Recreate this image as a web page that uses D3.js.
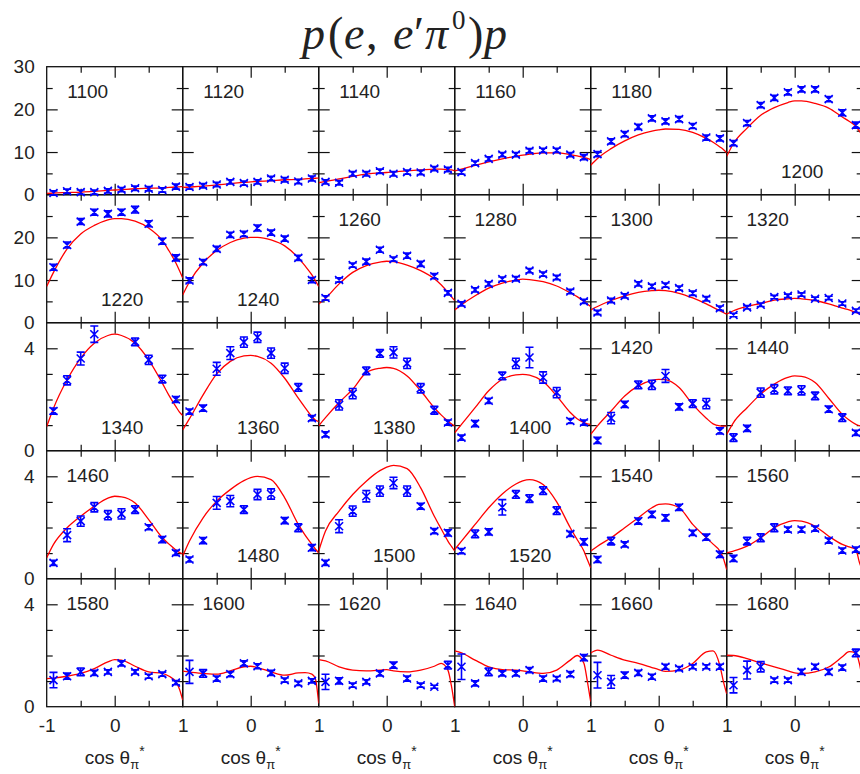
<!DOCTYPE html>
<html><head><meta charset="utf-8">
<script src="https://cdn.jsdelivr.net/npm/d3@7"></script>
<style>body{margin:0;background:#fff}svg{display:block}</style>
</head><body><svg id="chart" width="860" height="774"></svg>
<script>
// ---------------- data ----------------
const energies = [1100,1120,1140,1160,1180,1200,
                  1220,1240,1260,1280,1300,1320,
                  1340,1360,1380,1400,1420,1440,
                  1460,1480,1500,1520,1540,1560,
                  1580,1600,1620,1640,1660,1680];
const labelAtBottom = [1200,1220,1240,1340,1360,1380,1400,1480,1500,1520];
const binX = [-0.9,-0.7,-0.5,-0.3,-0.1,0.1,0.3,0.5,0.7,0.9];
const curveX = [-1,-0.9,-0.7,-0.5,-0.3,-0.1,0,0.1,0.3,0.5,0.7,0.8,0.9,0.95,1];
const rowMax = [30,30,5,5,5];
const rowMajorTicks = [[10,20],[10,20],[4],[4],[4]];
const rowMinorTicks = [[5,15,25],[5,15,25],[1,2,3],[1,2,3],[1,2,3]];
const rowTickLabels = [[0,10,20,30],[0,10,20],[0,4],[0,4],[0,4]];
const xMajorTicks = [0];
const xMinorTicks = [-0.5,0.5];
const xAxisTitle = "cos θ";

// measured cross sections (one array per energy, order as binX)
const dataValues = [
  [0.4,0.8,0.6,0.6,0.9,1.2,1.5,1.4,1.1,1.9],
  [1.8,2.1,2.4,3.0,2.7,3.0,3.8,3.5,3.1,3.8],
  [3.0,2.8,4.9,4.9,5.5,4.9,5.3,5.2,6.1,5.9],
  [5.3,7.4,8.4,9.4,9.4,10.3,10.4,10.4,9.4,8.8],
  [9.5,12.5,14.2,15.9,17.9,17.2,17.7,16.1,13.4,13.2],
  [12.1,16.8,21.0,22.7,24.0,24.7,24.7,22.4,19.2,16.3],
  [13.0,18.2,23.7,25.9,25.5,25.9,26.5,23.2,19.1,15.2],
  [9.9,14.2,17.3,20.6,20.8,22.2,21.1,19.7,15.2,10.0],
  [5.8,10.0,13.5,14.3,17.1,14.9,15.7,13.8,10.9,7.0],
  [4.4,7.7,9.1,10.2,10.3,12.2,11.4,10.6,7.3,5.0],
  [2.4,5.2,6.3,9.1,8.5,8.8,8.1,6.9,5.6,3.4],
  [1.8,3.6,4.2,6.0,6.3,6.6,5.6,5.8,4.5,2.8],
  [1.55,2.75,3.6,4.55,null,null,4.25,3.55,2.8,2.0],
  [1.53,1.66,3.2,3.81,4.24,4.43,3.81,3.22,2.47,1.27],
  [0.64,1.79,2.23,3.12,3.8,3.84,3.41,2.44,1.58,1.10],
  [0.51,1.06,1.95,2.92,3.41,3.64,2.86,2.27,1.16,1.10],
  [0.40,1.27,1.81,2.57,2.57,2.92,1.71,1.84,1.84,0.77],
  [0.51,0.87,2.27,2.40,2.34,2.36,2.14,1.62,1.29,0.70],
  [0.62,1.70,2.25,2.79,2.48,2.53,2.70,2.01,1.53,1.01],
  [0.75,1.49,2.96,3.03,2.70,3.29,3.31,2.27,1.99,1.21],
  [0.62,2.05,2.64,3.22,3.42,3.74,3.42,2.83,1.86,1.79],
  [1.08,1.75,1.83,2.79,3.29,3.13,3.44,2.66,1.75,1.44],
  [0.75,1.47,1.34,2.25,2.51,2.38,2.79,1.79,1.62,0.95],
  [0.79,1.47,1.60,1.99,1.92,1.92,1.96,1.49,1.10,1.14],
  [1.04,1.19,1.36,1.32,1.36,1.69,1.36,1.19,1.27,0.94],
  [1.36,1.30,1.10,1.27,1.69,1.58,1.32,1.04,0.91,1.01],
  [0.97,1.01,0.84,0.97,1.30,1.62,1.10,0.84,0.78,1.62],
  [1.56,0.91,1.36,1.30,1.30,1.43,1.10,1.10,1.27,1.92],
  [1.23,0.97,1.23,1.32,1.17,1.56,1.49,1.56,1.56,1.56],
  [0.84,1.43,1.56,1.04,1.04,1.36,1.56,1.36,1.53,2.10]
];
const dataErrors = [
  [0.5,0.5,0.5,0.5,0.5,0.5,0.5,0.5,0.5,0.6],
  [0.5,0.5,0.5,0.5,0.5,0.5,0.5,0.5,0.5,0.6],
  [0.5,0.5,0.5,0.5,0.5,0.5,0.5,0.5,0.5,0.5],
  [0.5,0.5,0.5,0.5,0.5,0.5,0.5,0.5,0.5,0.6],
  [0.6,0.6,0.6,0.6,0.6,0.6,0.6,0.6,0.6,0.6],
  [0.6,0.6,0.6,0.6,0.6,0.6,0.6,0.6,0.7,0.7],
  [0.7,0.7,0.7,0.7,0.7,0.7,0.8,0.7,0.7,0.7],
  [0.6,0.6,0.6,0.6,0.6,0.7,0.6,0.6,0.6,0.6],
  [0.5,0.5,0.5,0.6,0.6,0.5,0.6,0.6,0.6,0.5],
  [0.5,0.5,0.5,0.5,0.5,0.5,0.5,0.5,0.5,0.5],
  [0.5,0.5,0.5,0.5,0.5,0.5,0.5,0.5,0.5,0.5],
  [0.4,0.4,0.4,0.4,0.4,0.4,0.4,0.4,0.4,0.4],
  [0.12,0.18,0.25,0.32,0,0,0.15,0.18,0.15,0.12],
  [0.10,0.12,0.25,0.25,0.20,0.20,0.20,0.20,0.15,0.10],
  [0.10,0.20,0.20,0.15,0.15,0.22,0.20,0.18,0.15,0.10],
  [0.10,0.12,0.10,0.15,0.20,0.40,0.22,0.20,0.10,0.10],
  [0.12,0.22,0.12,0.15,0.18,0.25,0.12,0.15,0.20,0.12],
  [0.15,0.12,0.18,0.18,0.15,0.18,0.15,0.12,0.15,0.10],
  [0.10,0.25,0.20,0.18,0.18,0.20,0.15,0.10,0.12,0.10],
  [0.10,0.12,0.25,0.22,0.15,0.20,0.20,0.12,0.15,0.12],
  [0.10,0.25,0.20,0.22,0.20,0.22,0.20,0.12,0.10,0.12],
  [0.10,0.15,0.12,0.30,0.15,0.15,0.15,0.15,0.10,0.12],
  [0.12,0.15,0.10,0.12,0.12,0.12,0.12,0.10,0.12,0.12],
  [0.12,0.15,0.15,0.15,0.10,0.10,0.10,0.10,0.10,0.10],
  [0.30,0.12,0.15,0.10,0.08,0.10,0.08,0.08,0.08,0.08],
  [0.45,0.15,0.10,0.10,0.10,0.10,0.10,0.08,0.08,0.08],
  [0.30,0.12,0.08,0.08,0.10,0.12,0.10,0.08,0.06,0.15],
  [0.50,0.10,0.15,0.10,0.10,0.10,0.10,0.08,0.10,0.12],
  [0.50,0.25,0.12,0.10,0.10,0.10,0.08,0.08,0.08,0.10],
  [0.30,0.35,0.20,0.08,0.08,0.10,0.10,0.10,0.10,0.15]
];
// model curves sampled at curveX
const modelValues = [
  [0.3,0.4,0.5,0.6,0.8,1.0,1.1,1.2,1.4,1.5,1.6,1.7,1.8,1.85,1.9],
  [1.7,1.8,2.0,2.3,2.6,2.9,3.0,3.1,3.3,3.5,3.6,3.7,3.8,3.85,3.9],
  [2.8,3.1,3.7,4.3,4.8,5.1,5.2,5.35,5.6,5.8,6.0,6.0,5.9,5.8,5.6],
  [5.6,6.0,6.9,7.7,8.4,9.0,9.3,9.5,9.8,9.8,9.4,9.1,8.7,8.5,8.2],
  [6.9,8.5,10.8,12.6,14.0,14.9,15.2,15.4,15.3,14.6,13.2,12.3,11.2,10.6,9.8],
  [9.0,12.0,15.6,18.6,20.4,21.6,22.0,22.0,21.4,20.3,18.2,17.2,16.0,14.9,14.0],
  [8.5,11.8,17.3,20.8,22.8,24.1,24.4,24.4,23.8,22.2,19.3,16.8,14.0,12.3,10.5],
  [6.5,9.6,14.0,16.9,18.8,19.8,20.0,20.0,19.4,18.0,15.2,13.3,11.2,9.9,8.5],
  [4.4,5.7,9.1,11.8,13.4,14.2,14.4,14.3,13.5,12.2,10.3,8.9,7.1,6.1,5.2],
  [3.0,4.2,6.3,8.1,9.3,10.0,10.2,10.1,9.6,8.6,7.0,6.1,5.0,4.4,3.8],
  [3.0,3.8,5.2,6.3,7.1,7.5,7.6,7.5,6.9,5.8,4.4,3.6,2.8,2.4,2.0],
  [2.0,2.8,3.8,4.5,5.3,5.6,5.7,5.6,5.2,4.4,3.4,3.0,2.4,2.1,1.8],
  [0.94,1.66,2.77,3.62,4.2,4.5,4.55,4.5,4.2,3.55,2.64,2.15,1.72,1.52,1.37],
  [0.81,1.25,2.18,3.0,3.49,3.7,3.72,3.68,3.42,2.83,2.05,1.68,1.33,1.2,1.14],
  [0.97,1.29,1.88,2.4,3.05,3.22,3.25,3.22,2.92,2.34,1.68,1.4,1.16,1.05,0.97],
  [0.7,1.03,1.68,2.34,2.79,2.96,2.98,2.95,2.7,2.14,1.49,1.25,1.1,1.05,1.03],
  [0.64,0.97,1.55,2.14,2.53,2.75,2.79,2.78,2.47,1.81,1.27,1.05,0.97,0.96,0.97],
  [0.64,1.1,1.68,2.21,2.6,2.86,2.92,2.9,2.66,2.05,1.42,1.2,1.03,0.98,0.97],
  [0.82,1.34,1.99,2.44,2.83,3.15,3.22,3.2,2.96,2.31,1.6,1.35,1.12,1.03,0.97],
  [0.88,1.47,2.38,3.03,3.48,3.83,3.95,4.0,3.87,3.16,2.12,1.7,1.34,1.16,1.01],
  [1.08,1.86,2.64,3.29,3.81,4.22,4.36,4.43,4.3,3.55,2.44,1.95,1.47,1.27,1.08],
  [1.14,1.47,2.12,2.77,3.31,3.7,3.82,3.87,3.68,3.0,1.99,1.53,1.08,0.75,0.43],
  [1.08,1.27,1.6,1.99,2.38,2.77,2.9,2.92,2.77,2.12,1.6,1.35,1.08,0.8,0.36],
  [1.01,1.08,1.27,1.6,1.99,2.22,2.27,2.25,2.05,1.66,1.34,1.24,1.14,0.65,0.3],
  [1.1,1.12,1.19,1.3,1.49,1.75,1.84,1.82,1.58,1.36,1.3,1.19,0.97,0.7,0.26],
  [1.39,1.35,1.3,1.27,1.4,1.56,1.58,1.53,1.36,1.23,1.32,1.33,1.27,1.1,0.13],
  [1.84,1.79,1.56,1.43,1.4,1.43,1.45,1.4,1.36,1.43,1.58,1.69,1.43,0.84,0.0],
  [2.18,2.1,1.82,1.56,1.45,1.43,1.4,1.36,1.3,1.43,1.82,2.0,1.7,1.0,0.2],
  [2.1,2.21,2.01,1.82,1.69,1.53,1.45,1.38,1.43,1.69,2.14,2.18,1.6,1.0,0.5],
  [2.01,2.0,1.88,1.71,1.56,1.4,1.32,1.3,1.36,1.55,1.95,2.15,2.1,1.7,1.0]
];

// ---------------- layout ----------------
const L = 46.7, T = 66.7, W = 136, H = 128, NC = 6, NR = 5;
const font = "'Liberation Sans', Arial, Helvetica, sans-serif";
const txtColor = "#222";
const svg = d3.select("#chart");

// title  p(e, e′π⁰)p
const title = svg.append("text")
  .attr("y", 49).attr("font-family", "'Liberation Serif','Times New Roman',serif")
  .attr("font-size", 46).attr("fill", "#222");
const tparts = [
  {t:"p", x:302, it:true}, {t:"(", x:328, it:false}, {t:"e", x:344, it:true},
  {t:",", x:366, it:false}, {t:"e", x:393, it:true}, {t:"′", x:414, it:false},
  {t:"π", x:425, it:true}, {t:"0", x:452, it:false, sup:true},
  {t:")", x:468, it:false}, {t:"p", x:484, it:true}
];
tparts.forEach(p => {
  title.append("tspan").attr("x", p.x).attr("y", p.sup ? 29 : 49)
    .attr("font-style", p.it ? "italic" : "normal")
    .attr("font-size", p.sup ? 27 : 46).text(p.t);
});

function xScale(c){ return d3.scaleLinear().domain([-1,1]).range([L + c*W, L + (c+1)*W]); }
function yScale(r){ return d3.scaleLinear().domain([0,rowMax[r]]).range([T + (r+1)*H, T + r*H]); }
const plainFmt = d => String(d);   // keeps ASCII hyphen for "-1"

const gTicks = svg.append("g");
const gFrame = svg.append("g");
const gCurves = svg.append("g");
const gPts = svg.append("g");
const gLbl = svg.append("g");

function styleAxis(g){
  g.select(".domain").remove();
  g.selectAll(".tick line").attr("stroke", "#111").attr("stroke-width", 1.2);
  g.selectAll(".tick text").remove();
}

energies.forEach((E, i) => {
  const r = Math.floor(i / NC), c = i % NC;
  const x = xScale(c), y = yScale(r);
  const x0 = x.range()[0], x1 = x.range()[1];
  const y0 = y.range()[1], y1 = y.range()[0];

  // inward ticks on four sides (major and minor)
  [[xMajorTicks, 11], [xMinorTicks, 6]].forEach(([vals, len]) => {
    gTicks.append("g").attr("transform", `translate(0,${y0})`)
      .call(d3.axisTop(x).tickValues(vals).tickSize(-len)).call(styleAxis);
    gTicks.append("g").attr("transform", `translate(0,${y1})`)
      .call(d3.axisBottom(x).tickValues(vals).tickSize(-len)).call(styleAxis);
  });
  [[rowMajorTicks[r], 11], [rowMinorTicks[r], 6]].forEach(([vals, len]) => {
    gTicks.append("g").attr("transform", `translate(${x0},0)`)
      .call(d3.axisLeft(y).tickValues(vals).tickSize(-len)).call(styleAxis);
    gTicks.append("g").attr("transform", `translate(${x1},0)`)
      .call(d3.axisRight(y).tickValues(vals).tickSize(-len)).call(styleAxis);
  });

  // frame
  gFrame.append("rect").attr("x", x0).attr("y", y0).attr("width", x1 - x0).attr("height", y1 - y0)
    .attr("fill", "none").attr("stroke", "#111").attr("stroke-width", 1.3);

  // clip for curve
  const clipId = "clip" + E;
  svg.append("clipPath").attr("id", clipId).append("rect")
    .attr("x", x0).attr("y", y0).attr("width", x1 - x0).attr("height", y1 - y0);

  const line = d3.line().x(d => x(d[0])).y(d => y(d[1])).curve(d3.curveMonotoneX);
  gCurves.append("path").datum(curveX.map((cx, k) => [cx, modelValues[i][k]]))
    .attr("clip-path", `url(#${clipId})`)
    .attr("d", line).attr("fill", "none").attr("stroke", "#ff0000").attr("stroke-width", 1.3);

  // data points with error bars
  const pts = binX.map((bx, k) => ({x: bx, v: dataValues[i][k], e: dataErrors[i][k]})).filter(d => d.v != null);
  const s = 4, cap = 4;
  const gp = gPts.append("g").attr("stroke", "#0000ff").attr("stroke-width", 1.6).attr("fill", "none");
  pts.forEach(d => {
    const px = x(d.x), py = y(d.v), pLo = y(d.v - d.e), pHi = y(d.v + d.e);
    gp.append("path").attr("d",
      `M${px},${pLo}V${pHi}` +
      `M${px-cap},${pLo}H${px+cap}M${px-cap},${pHi}H${px+cap}` +
      `M${px-s},${py-s}L${px+s},${py+s}M${px-s},${py+s}L${px+s},${py-s}`);
  });

  // panel label
  const bottom = labelAtBottom.includes(E);
  gLbl.append("text")
    .attr("x", bottom ? x0 + 75.5 : x0 + 41)
    .attr("y", bottom ? y0 + 111.5 : y0 + 31.5)
    .attr("text-anchor", "middle").attr("font-family", font).attr("font-size", 19)
    .attr("fill", txtColor).text(E);

  // y tick labels on the outer left
  if (c === 0) {
    const ga = gLbl.append("g").attr("transform", `translate(${x0},0)`)
      .call(d3.axisLeft(y).tickValues(rowTickLabels[r]).tickSize(0).tickPadding(12).tickFormat(plainFmt));
    ga.select(".domain").remove();
    ga.selectAll("text").attr("font-family", font).attr("font-size", 19).attr("fill", txtColor);
  }
  // x tick labels + axis title on the bottom row
  if (r === NR - 1) {
    const vals = c === 0 ? [-1, 0, 1] : (c === NC - 1 ? [0] : [0, 1]);
    const ga = gLbl.append("g").attr("transform", `translate(0,${y1})`)
      .call(d3.axisBottom(x).tickValues(vals).tickSize(0).tickPadding(12).tickFormat(plainFmt));
    ga.select(".domain").remove();
    ga.selectAll("text").attr("font-family", font).attr("font-size", 19).attr("fill", txtColor);
    const t = gLbl.append("text").attr("x", x(0)).attr("y", 764).attr("text-anchor", "middle")
      .attr("font-family", font).attr("font-size", 19).attr("fill", txtColor);
    t.append("tspan").text(xAxisTitle);
    t.append("tspan").attr("font-size", 13).attr("dy", 5).text("π");
    t.append("tspan").attr("font-size", 14).attr("dy", -13).text("*");
  }
});
</script></body></html>
